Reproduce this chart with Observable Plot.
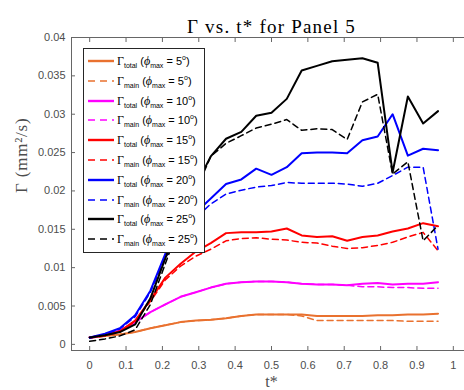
<!DOCTYPE html>
<html>
<head>
<meta charset="utf-8">
<script src="https://cdn.jsdelivr.net/npm/d3@7"></script>
<script src="https://cdn.jsdelivr.net/npm/@observablehq/plot@0.6"></script>
<style>
  body { margin: 0; background: #fff; }
  #chart { position: relative; width: 464px; height: 390px; overflow: hidden; background: #fff; }
  #legend {
    position: absolute; left: 83px; top: 48px; width: 122px; height: 205px;
    box-sizing: border-box; border: 1px solid #262626; background: #fff;
    font-family: "Liberation Sans", Arial, sans-serif; font-size: 11px; color: #000;
  }
  #legend .row { position: absolute; left: 0; height: 16px; width: 100%; }
  #legend svg { position: absolute; left: 4px; top: 0; }
  #legend .lbl { position: absolute; left: 33px; top: 1px; white-space: nowrap; line-height: 14px; }
  #legend .G { font-family: "Liberation Serif", serif; font-size: 12px; }
  #legend sub, #legend sup { font-size: 7px; line-height: 0; }
  #legend sub { vertical-align: -3px; }
  #legend sup { vertical-align: 5px; }
  #legend i { font-family: "Liberation Serif", serif; font-size: 12px; }
</style>
</head>
<body>
<div id="chart"></div>
<script>
// Normalised time t* of each sample
const tStar = [0, 0.042, 0.083, 0.125, 0.167, 0.208, 0.25, 0.292, 0.333, 0.375, 0.417, 0.458,
               0.5, 0.542, 0.583, 0.625, 0.667, 0.708, 0.75, 0.792, 0.833, 0.875, 0.917, 0.958];

// Circulation Γ (mm²/s) for each maximum pitch angle φmax
const total5  = [0.0009, 0.0011, 0.0013, 0.0016, 0.0021, 0.0025, 0.0029, 0.0031, 0.0032, 0.0034, 0.0037, 0.0039,
                 0.0039, 0.0039, 0.0039, 0.0037, 0.0037, 0.0037, 0.0037, 0.0038, 0.0038, 0.0039, 0.0039, 0.0040];
const main5   = [0.0009, 0.0011, 0.0013, 0.0016, 0.0021, 0.0025, 0.0029, 0.0031, 0.0032, 0.0034, 0.0037, 0.0039,
                 0.0039, 0.0039, 0.0037, 0.0031, 0.0031, 0.0031, 0.0031, 0.0031, 0.0031, 0.0030, 0.0030, 0.0030];
const total10 = [0.0009, 0.0012, 0.0018, 0.0029, 0.0042, 0.0052, 0.0062, 0.0068, 0.0074, 0.0079, 0.0081, 0.0082,
                 0.0082, 0.0081, 0.0079, 0.0078, 0.0078, 0.0077, 0.0079, 0.0080, 0.0078, 0.0079, 0.0079, 0.0081];
const main10  = [0.0009, 0.0012, 0.0018, 0.0029, 0.0042, 0.0052, 0.0062, 0.0068, 0.0074, 0.0079, 0.0081, 0.0082,
                 0.0082, 0.0081, 0.0079, 0.0078, 0.0078, 0.0077, 0.0075, 0.0075, 0.0074, 0.0074, 0.0073, 0.0073];
const total15 = [0.0009, 0.0012, 0.0017, 0.0031, 0.0058, 0.0087, 0.0105, 0.0121, 0.0132, 0.0145, 0.0146, 0.0146,
                 0.0147, 0.0151, 0.0142, 0.0140, 0.0141, 0.0135, 0.0140, 0.0142, 0.0147, 0.0151, 0.0158, 0.0154];
const main15  = [0.0008, 0.0011, 0.0016, 0.0030, 0.0056, 0.0084, 0.0102, 0.0115, 0.0124, 0.0135, 0.0138, 0.0139,
                 0.0137, 0.0136, 0.0133, 0.0132, 0.0128, 0.0125, 0.0126, 0.0129, 0.0133, 0.0140, 0.0146, 0.0122];
const total20 = [0.0009, 0.0014, 0.0021, 0.0038, 0.0070, 0.0118, 0.0148, 0.0172, 0.0190, 0.0209, 0.0215, 0.0229,
                 0.0221, 0.0231, 0.0249, 0.0250, 0.0250, 0.0249, 0.0266, 0.0271, 0.0300, 0.0246, 0.0255, 0.0253];
const main20  = [0.0008, 0.0013, 0.0020, 0.0036, 0.0068, 0.0113, 0.0142, 0.0165, 0.0183, 0.0196, 0.0201, 0.0205,
                 0.0207, 0.0211, 0.0210, 0.0210, 0.0210, 0.0209, 0.0206, 0.0210, 0.0220, 0.0231, 0.0231, 0.0124];
const total25 = [0.0009, 0.0012, 0.0016, 0.0026, 0.0060, 0.0112, 0.0165, 0.0207, 0.0245, 0.0268, 0.0277, 0.0298,
                 0.0302, 0.0320, 0.0357, 0.0363, 0.0369, 0.0371, 0.0373, 0.0367, 0.0224, 0.0323, 0.0288, 0.0304];
const main25  = [0.0004, 0.0007, 0.0011, 0.0019, 0.0052, 0.0105, 0.0160, 0.0200, 0.0245, 0.0262, 0.0272, 0.0282,
                 0.0287, 0.0293, 0.0279, 0.0281, 0.0280, 0.0267, 0.0316, 0.0326, 0.0222, 0.0238, 0.0135, 0.0155];

const angles = [5, 10, 15, 20, 25];
const colors = ["#e9712f", "#ff00ff", "#ff0000", "#0000ff", "#000000"];
const xTicks = [0, 0.1, 0.2, 0.3, 0.4, 0.5, 0.6, 0.7, 0.8, 0.9, 1];
const yTicks = [0, 0.005, 0.01, 0.015, 0.02, 0.025, 0.03, 0.035, 0.04];

const series = [
  {angle: 5,  kind: "total", values: total5},  {angle: 5,  kind: "main", values: main5},
  {angle: 10, kind: "total", values: total10}, {angle: 10, kind: "main", values: main10},
  {angle: 15, kind: "total", values: total15}, {angle: 15, kind: "main", values: main15},
  {angle: 20, kind: "total", values: total20}, {angle: 20, kind: "main", values: main20},
  {angle: 25, kind: "total", values: total25}, {angle: 25, kind: "main", values: main25}
];
const colorOf = a => colors[angles.indexOf(a)];
const widthOf = k => k === "total" ? 2 : 1.5;
const dashOf = k => k === "total" ? null : "6,4";

const lineMarks = series.map(s => Plot.line(
  tStar.map((t, i) => ({t, v: s.values[i]})),
  {x: "t", y: "v", stroke: colorOf(s.angle), strokeWidth: widthOf(s.kind),
   strokeDasharray: dashOf(s.kind), strokeLinejoin: "round"}
));

const axisColor = "#666";
const textColor = "#4d4d4d";
const sansFont = "Liberation Sans, Arial, sans-serif";
const serifFont = "Liberation Serif, Times New Roman, serif";

const plot = Plot.plot({
  width: 464,
  height: 390,
  marginLeft: 71,
  marginRight: -7,
  marginTop: 37,
  marginBottom: 40,
  style: {background: "#fff", fontFamily: sansFont, overflow: "hidden"},
  x: {domain: [-0.05, 1.05]},
  y: {domain: [-0.0008, 0.04]},
  marks: [
    ...lineMarks,
    Plot.frame({anchor: "left", stroke: axisColor}),
    Plot.frame({anchor: "bottom", stroke: axisColor}),
    Plot.frame({anchor: "top", stroke: axisColor}),
    Plot.axisX({ticks: xTicks, tickSize: -4, tickPadding: 15, stroke: axisColor,
                tickFormat: d => String(d), fontSize: 11, color: textColor, label: null}),
    Plot.axisX({anchor: "top", ticks: xTicks, tickSize: -4, stroke: axisColor, text: null, label: null}),
    Plot.axisY({ticks: yTicks, tickSize: -4, tickPadding: 10, stroke: axisColor,
                tickFormat: d => String(d), fontSize: 11, color: textColor, label: null}),
    Plot.text(["Γ vs. t* for Panel 5"], {frameAnchor: "top", dy: -18, fontSize: 19,
                fontFamily: serifFont, fill: "#000", className: "title-text"}),
    Plot.text(["t*"], {frameAnchor: "bottom", dy: 36, fontSize: 16, fontFamily: serifFont, fill: textColor}),
    Plot.text(["Γ (mm²/s)"], {frameAnchor: "left", dx: -50, dy: -1, rotate: -90, fontSize: 17,
                fontFamily: serifFont, fill: textColor, className: "ylabel-text"})
  ]
});

// Slightly wider tracking for the serif title and axis label
plot.querySelectorAll(".title-text text").forEach(t => t.setAttribute("letter-spacing", "1.2"));
plot.querySelectorAll(".ylabel-text text").forEach(t => t.setAttribute("letter-spacing", "0.8"));

const chart = document.getElementById("chart");
chart.appendChild(plot);

// Legend box inside the axes, top-left
const legend = document.createElement("div");
legend.id = "legend";
let row = 0;
for (const s of series) {
  const div = document.createElement("div");
  div.className = "row";
  div.style.top = (4 + row * 19.8) + "px";
  const c = colorOf(s.angle);
  const dash = s.kind === "main" ? ' stroke-dasharray="7,5"' : "";
  const sw = s.kind === "main" ? 1.6 : 2.4;
  div.innerHTML =
    `<svg width="27" height="16"><line x1="0" x2="26" y1="8" y2="8" stroke="${c}" stroke-width="${sw}"${dash}/></svg>` +
    `<span class="lbl"><span class="G">Γ</span><sub>${s.kind}</sub> (<i>ϕ</i><sub>max</sub> = ${s.angle}<sup>o</sup>)</span>`;
  legend.appendChild(div);
  row++;
}
chart.appendChild(legend);
</script>
</body>
</html>
